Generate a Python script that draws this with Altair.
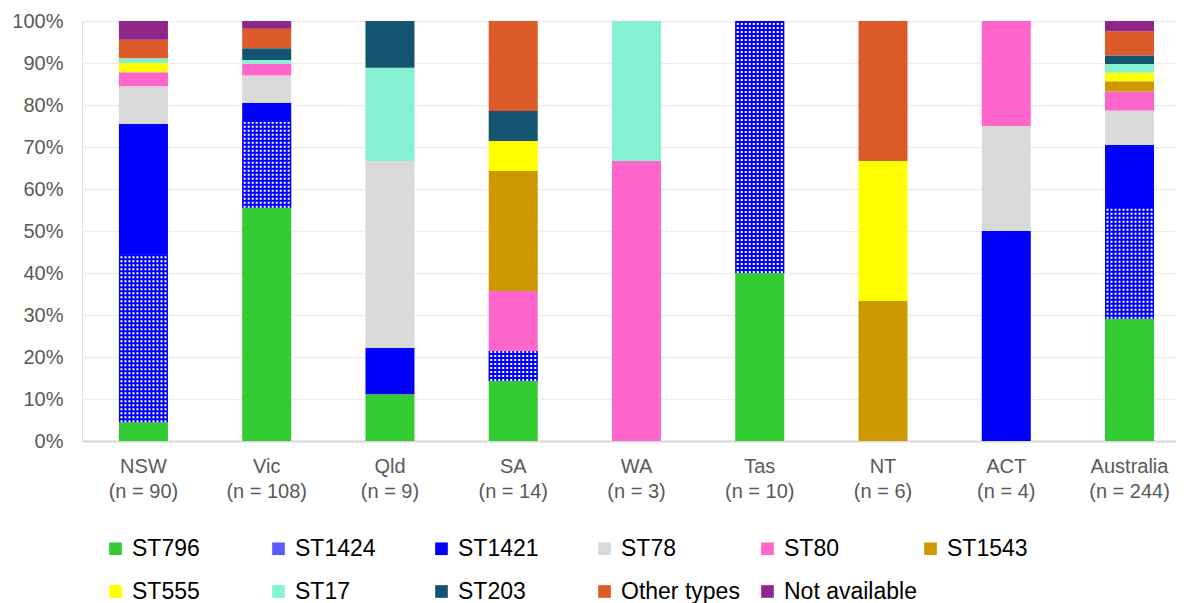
import altair as alt
import pandas as pd

regions = ["NSW", "Vic", "Qld", "SA", "WA", "Tas", "NT", "ACT", "Australia"]
n_values = [90, 108, 9, 14, 3, 10, 6, 4, 244]

types = ["ST796", "ST1424", "ST1421", "ST78", "ST80", "ST1543",
         "ST555", "ST17", "ST203", "Other types", "Not available"]
colors = ["#33CC33", "#5B5BFF", "#0000FF", "#D9D9D9", "#FF66CC", "#CC9900",
          "#FFFF00", "#85F1D0", "#135470", "#DD5A29", "#8F278A"]

# isolate counts per region (same order as regions)
st796 = [4, 60, 1, 2, 0, 4, 0, 0, 71]
st1424 = [36, 22, 0, 1, 0, 6, 0, 0, 65]
st1421 = [28, 5, 1, 0, 0, 0, 0, 2, 36]
st78 = [8, 7, 4, 0, 0, 0, 0, 1, 20]
st80 = [3, 3, 0, 2, 2, 0, 0, 1, 11]
st1543 = [0, 0, 0, 4, 0, 0, 2, 0, 6]
st555 = [2, 0, 0, 1, 0, 0, 2, 0, 5]
st17 = [1, 1, 2, 0, 1, 0, 0, 0, 5]
st203 = [0, 3, 1, 1, 0, 0, 0, 0, 5]
other_types = [4, 5, 0, 3, 0, 0, 2, 0, 14]
not_available = [4, 2, 0, 0, 0, 0, 0, 0, 6]

series = [st796, st1424, st1421, st78, st80, st1543, st555, st17, st203,
          other_types, not_available]

labels = [f"{r}|(n = {n})" for r, n in zip(regions, n_values)]

rows = []
for order, (t, vals) in enumerate(zip(types, series)):
    for lab, v in zip(labels, vals):
        rows.append({"label": lab, "type": t, "count": v, "order": order})
df = pd.DataFrame(rows)

xscale = alt.Scale(paddingInner=0.6024, paddingOuter=0.239, align=0.627)
x_enc = alt.X("label:N", sort=labels, scale=xscale,
              axis=alt.Axis(title=None, labelExpr="split(datum.value, '|')",
                            labelFontSize=20, labelColor="#595959",
                            labelLineHeight=25, labelAngle=0, ticks=False,
                            domain=True, domainColor="#D9D9D9", domainWidth=2,
                            labelPadding=15, grid=False,
                            labelFont="Liberation Sans"))
y_enc = alt.Y("y0:Q", scale=alt.Scale(domain=[0, 1], nice=False),
              axis=alt.Axis(title=None, format=".0%",
                            values=[i / 10 for i in range(11)],
                            grid=True, gridColor="#EEEEE8", gridWidth=1.5,
                            domain=False, ticks=False, labelFontSize=20,
                            labelColor="#595959", labelPadding=19,
                            labelFont="Liberation Sans"))

base = alt.Chart(df).transform_filter("datum.count > 0").transform_stack(
    stack="count", groupby=["label"], as_=["y0", "y1"], offset="normalize",
    sort=[alt.SortField("order", order="ascending")])

bars = base.mark_bar().encode(
    x=x_enc, y=y_enc, y2="y1:Q",
    color=alt.Color("type:N", scale=alt.Scale(domain=types, range=colors),
                    legend=alt.Legend(orient="none", legendX=22, legendY=516,
                                      direction="horizontal", columns=6,
                                      gridAlign="all", columnPadding=2,
                                      rowPadding=19, symbolType="square",
                                      symbolSize=160, symbolStrokeWidth=0,
                                      labelFontSize=23, labelColor="#000000",
                                      labelFont="Liberation Sans",
                                      labelLimit=400, padding=0, title=None,
                                      labelOffset=5)),
)

pattern_base = base.transform_filter("datum.type == 'ST1424'")
overlay = pattern_base.mark_bar(color="#0000FF").encode(
    x=alt.X("label:N", sort=labels), y="y0:Q", y2="y1:Q")

offsets = list(range(-22, 23, 4))
dot_layers = [
    pattern_base.mark_rule(stroke="white", strokeWidth=2, strokeDash=[2, 2],
                           xOffset=o).encode(
        x=alt.X("label:N", sort=labels), y="y0:Q", y2="y1:Q")
    for o in offsets
]

chart = alt.layer(bars, overlay, *dot_layers).properties(
    width=1094, height=420,
    autosize=alt.AutoSizeParams(type="none"),
    padding={"left": 74, "top": 13, "right": 0, "bottom": 164},
).configure_view(stroke=None).configure(background="white")

chart.save("out.html", embed_options={"renderer": "svg", "actions": False})
